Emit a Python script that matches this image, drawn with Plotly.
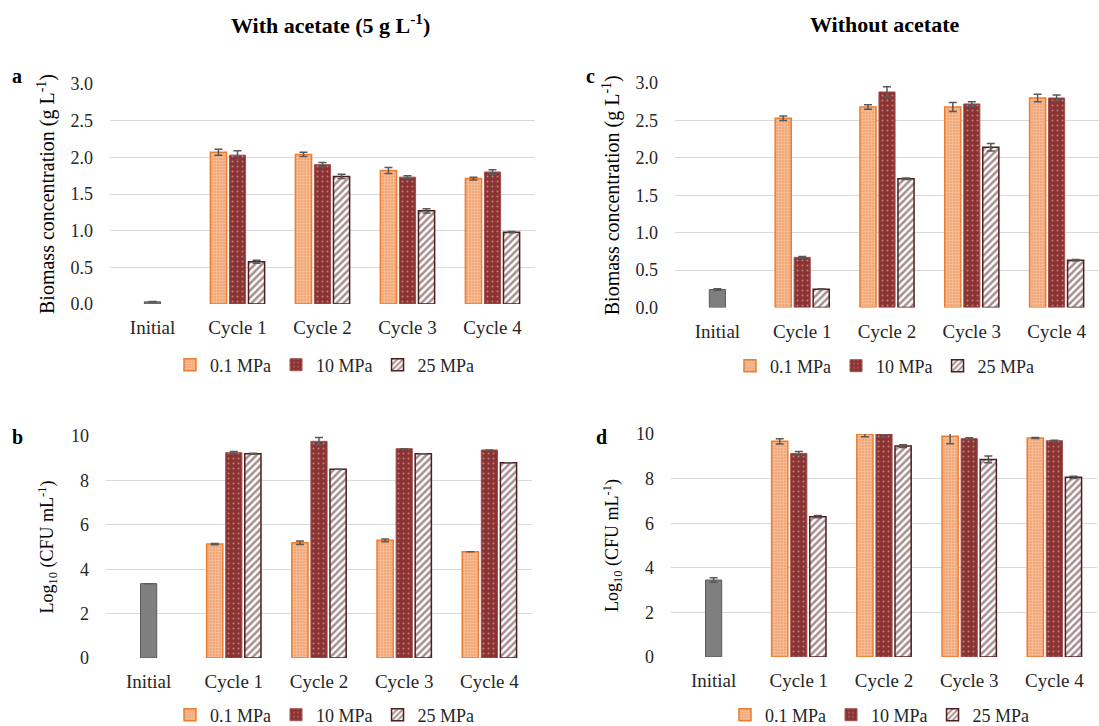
import plotly.graph_objects as go

categories = ["Initial", "Cycle 1", "Cycle 2", "Cycle 3", "Cycle 4"]
cycles = categories[1:]
series_names = ["0.1 MPa", "10 MPa", "25 MPa"]

# Panel a: biomass, with acetate
a_initial = [0.03]
a_initial_err = [0.005]
a_01 = [2.07, 2.04, 1.82, 1.71]
a_01_err = [0.04, 0.03, 0.04, 0.02]
a_10 = [2.03, 1.90, 1.73, 1.80]
a_10_err = [0.06, 0.03, 0.02, 0.03]
a_25 = [0.575, 1.74, 1.27, 0.98]
a_25_err = [0.02, 0.03, 0.03, 0.01]

# Panel b: log10 CFU, with acetate
b_initial = [3.35]
b_initial_err = [0.0]
b_01 = [5.13, 5.19, 5.30, 4.79]
b_01_err = [0.03, 0.08, 0.06, 0.0]
b_10 = [9.25, 9.76, 9.43, 9.37]
b_10_err = [0.05, 0.17, 0.0, 0.0]
b_25 = [9.20, 8.50, 9.20, 8.80]
b_25_err = [0.02, 0.0, 0.0, 0.0]

# Panel c: biomass, without acetate
c_initial = [0.24]
c_initial_err = [0.01]
c_01 = [2.53, 2.68, 2.68, 2.80]
c_01_err = [0.03, 0.03, 0.06, 0.05]
c_10 = [0.67, 2.88, 2.72, 2.80]
c_10_err = [0.01, 0.07, 0.03, 0.04]
c_25 = [0.245, 1.72, 2.14, 0.63]
c_25_err = [0.005, 0.01, 0.05, 0.01]

# Panel d: log10 CFU, without acetate
d_initial = [3.45]
d_initial_err = [0.10]
d_01 = [9.67, 10.0, 9.90, 9.82]
d_01_err = [0.12, 0.12, 0.34, 0.02]
d_10 = [9.13, 10.0, 9.79, 9.70]
d_10_err = [0.08, 0.15, 0.04, 0.02]
d_25 = [6.29, 9.46, 8.86, 8.06]
d_25_err = [0.05, 0.06, 0.15, 0.05]

FONT = "Liberation Serif"
ERR_COLOR = "#595959"
BAR_W = 0.19
OFFSETS = [-0.319, -0.095, 0.129]

styles = [
    dict(color="#F4B183", line=dict(color="#ED7D31", width=1.5),
         pattern=dict(shape="+", fgcolor="#FCE4D4", bgcolor="#F2A877", size=3, solidity=0.35)),
    dict(color="#8B3232", line=dict(color="#A05050", width=1),
         pattern=dict(shape=".", fgcolor="#F0D0D0", bgcolor="#8B3232", size=5, solidity=0.12)),
    dict(color="#4E1E1E", line=dict(color="#4E1E1E", width=1.5),
         pattern=dict(shape="/", fgcolor="#4E1E1E", bgcolor="#FFFFFF", size=5, solidity=0.5)),
]

panels = [
    ("x", "y", "legend", a_initial, a_initial_err, [a_01, a_10, a_25], [a_01_err, a_10_err, a_25_err]),
    ("x2", "y2", "legend2", b_initial, b_initial_err, [b_01, b_10, b_25], [b_01_err, b_10_err, b_25_err]),
    ("x3", "y3", "legend3", c_initial, c_initial_err, [c_01, c_10, c_25], [c_01_err, c_10_err, c_25_err]),
    ("x4", "y4", "legend4", d_initial, d_initial_err, [d_01, d_10, d_25], [d_01_err, d_10_err, d_25_err]),
]

fig = go.Figure()
for xa, ya, lg, init, init_err, vals, errs in panels:
    fig.add_trace(go.Bar(
        x=categories[:1], y=init, xaxis=xa, yaxis=ya, width=BAR_W, offset=-0.095,
        marker=dict(color="#7F7F7F", line=dict(color="#595959", width=1)),
        error_y=dict(type="data", array=init_err, color=ERR_COLOR, thickness=1.5, width=4),
        showlegend=False, cliponaxis=False,
    ))
    for i, name in enumerate(series_names):
        fig.add_trace(go.Bar(
            x=cycles, y=vals[i], name=name, xaxis=xa, yaxis=ya, legend=lg,
            width=BAR_W, offset=OFFSETS[i], marker=styles[i],
            error_y=dict(type="data", array=errs[i], color=ERR_COLOR, thickness=1.5, width=4),
            cliponaxis=False,
        ))

H = 726.0
W = 1099.0
def yd(top, bottom):
    return [1 - bottom / H, 1 - top / H]
def xd(left, right):
    return [left / W, min(right / W, 1.0)]

xcommon = dict(type="category", categoryorder="array", categoryarray=categories,
               range=[-0.5, 4.5], showgrid=False, zeroline=False, showline=False,
               ticks="", ticklabelstandoff=10, automargin=False,
               tickfont=dict(family=FONT, size=19, color="#262626"), fixedrange=True)
ycommon = dict(showgrid=True, gridcolor="#D9D9D9", gridwidth=1, zeroline=False,
               showline=False, ticks="", ticklabelstandoff=16, automargin=False,
               tickfont=dict(family=FONT, size=18, color="#262626"), fixedrange=True)

biomass_title = dict(text="Biomass concentration (g L<sup>-1</sup>)",
                     font=dict(family=FONT, size=20, color="#000000"), standoff=10)
cfu_title = dict(text="Log<sub>10</sub> (CFU mL<sup>-1</sup>)",
                 font=dict(family=FONT, size=18, color="#000000"), standoff=12)

fig.update_layout(
    width=1099, height=726,
    margin=dict(l=0, r=0, t=0, b=0, autoexpand=False),
    paper_bgcolor="white", plot_bgcolor="white",
    barmode="overlay",
    font=dict(family=FONT, size=18, color="#262626"),
    xaxis=dict(domain=xd(110, 535), anchor="y", **xcommon),
    yaxis=dict(domain=yd(84, 304), anchor="x", range=[0, 3.0], dtick=0.5, tickformat=".1f",
               title=biomass_title, **ycommon),
    xaxis2=dict(domain=xd(106, 532), anchor="y2", **xcommon),
    yaxis2=dict(domain=yd(436, 658), anchor="x2", range=[0, 10], dtick=2,
                title=cfu_title, **ycommon),
    xaxis3=dict(domain=xd(675, 1100), anchor="y3", **xcommon),
    yaxis3=dict(domain=yd(83, 307.5), anchor="x3", range=[0, 3.0], dtick=0.5, tickformat=".1f",
                title=biomass_title, **ycommon),
    xaxis4=dict(domain=xd(671, 1097), anchor="y4", **xcommon),
    yaxis4=dict(domain=yd(434, 657), anchor="x4", range=[0, 10], dtick=2,
                title=cfu_title, **ycommon),
)

leg_common = dict(orientation="h", xanchor="center", yanchor="middle",
                  font=dict(family=FONT, size=18, color="#262626"),
                  bgcolor="rgba(0,0,0,0)", itemwidth=30, traceorder="normal")
fig.update_layout(
    legend=dict(x=325 / W, y=1 - 365 / H, **leg_common),
    legend2=dict(x=325 / W, y=1 - 715 / H, **leg_common),
    legend3=dict(x=885 / W, y=1 - 366 / H, **leg_common),
    legend4=dict(x=880 / W, y=1 - 715 / H, **leg_common),
)

annotations = [
    dict(text="<b>With acetate (5 g L<sup>-1</sup>)</b>", x=330 / W, y=1 - 24 / H,
         font=dict(family=FONT, size=22, color="#000000")),
    dict(text="<b>Without acetate</b>", x=885 / W, y=1 - 25 / H,
         font=dict(family=FONT, size=22, color="#000000")),
    dict(text="<b>a</b>", x=17 / W, y=1 - 76 / H, font=dict(family=FONT, size=20, color="#000000")),
    dict(text="<b>b</b>", x=17 / W, y=1 - 437 / H, font=dict(family=FONT, size=20, color="#000000")),
    dict(text="<b>c</b>", x=590 / W, y=1 - 76 / H, font=dict(family=FONT, size=20, color="#000000")),
    dict(text="<b>d</b>", x=601 / W, y=1 - 437 / H, font=dict(family=FONT, size=20, color="#000000")),
]
for a in annotations:
    a.update(xref="paper", yref="paper", showarrow=False, xanchor="center", yanchor="middle")
fig.update_layout(annotations=annotations)

fig.write_html("out.html")
